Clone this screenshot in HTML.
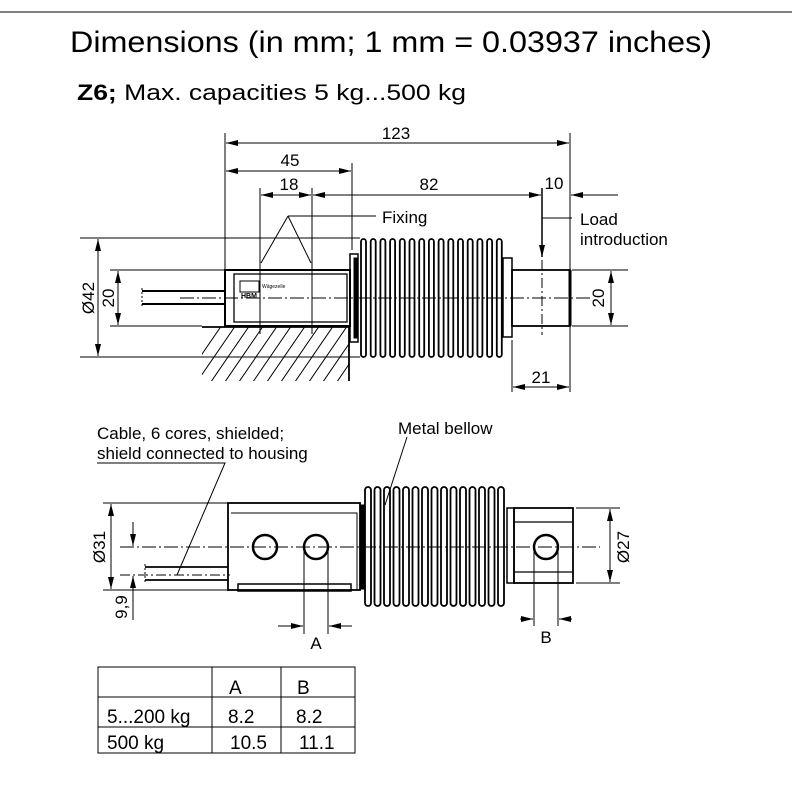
<!DOCTYPE html>
<html><head><meta charset="utf-8"><style>
html,body{margin:0;padding:0;background:#fff;}
svg{display:block;font-family:"Liberation Sans",Arial,sans-serif;}
</style></head><body>
<svg width="792" height="792" viewBox="0 0 792 792" xmlns="http://www.w3.org/2000/svg">
<defs>
<marker id="ae" markerWidth="12" markerHeight="6" refX="12" refY="3" orient="auto" markerUnits="userSpaceOnUse"><path d="M0,0 L12,3 L0,6 z" fill="#000"/></marker>
<marker id="as" markerWidth="12" markerHeight="6" refX="0" refY="3" orient="auto" markerUnits="userSpaceOnUse"><path d="M12,0 L0,3 L12,6 z" fill="#000"/></marker>
<clipPath id="hc"><rect x="202" y="327" width="147" height="54"/></clipPath>
</defs>
<line x1="0" y1="12" x2="792" y2="12" stroke="#000" stroke-width="1"/>
<text x="70" y="52" font-size="30" textLength="642" lengthAdjust="spacingAndGlyphs">Dimensions (in mm; 1 mm = 0.03937 inches)</text>
<text x="77" y="100" font-size="22" textLength="389" lengthAdjust="spacingAndGlyphs"><tspan font-weight="bold">Z6;</tspan> Max. capacities 5 kg...500 kg</text>

<g stroke="#000" fill="none" stroke-width="1">
<line x1="225" y1="133" x2="225" y2="270"/>
<line x1="570" y1="133" x2="570" y2="392"/>
<line x1="226" y1="143" x2="569" y2="143" marker-start="url(#as)" marker-end="url(#ae)"/>
<line x1="352" y1="163" x2="352" y2="250"/>
<line x1="226" y1="171" x2="351" y2="171" marker-start="url(#as)" marker-end="url(#ae)"/>
<line x1="260" y1="188" x2="260" y2="334"/>
<line x1="312" y1="188" x2="312" y2="334"/>
<line x1="261" y1="195" x2="311" y2="195" marker-start="url(#as)" marker-end="url(#ae)"/>
<line x1="313" y1="195" x2="541" y2="195" marker-start="url(#as)" marker-end="url(#ae)"/>
<line x1="571" y1="195" x2="618" y2="195" marker-start="url(#as)"/>
<line x1="542" y1="188" x2="542" y2="257" stroke-width="1.5" marker-end="url(#ae)"/>
<line x1="542" y1="260" x2="542" y2="335" stroke-dasharray="10,3,2,3"/>
<line x1="542" y1="218" x2="572" y2="218"/>
<line x1="288" y1="216" x2="376" y2="216"/>
<line x1="288" y1="216" x2="261" y2="263"/>
<line x1="288" y1="216" x2="311" y2="263"/>
<line x1="80" y1="238" x2="360" y2="238"/>
<line x1="80" y1="357" x2="360" y2="357"/>
<line x1="98" y1="239" x2="98" y2="356" marker-start="url(#as)" marker-end="url(#ae)"/>
<line x1="110" y1="270" x2="225" y2="270"/>
<line x1="110" y1="326" x2="202" y2="326"/>
<line x1="118" y1="271" x2="118" y2="325" marker-start="url(#as)" marker-end="url(#ae)"/>
<line x1="572" y1="270" x2="628" y2="270"/>
<line x1="572" y1="326" x2="628" y2="326"/>
<line x1="611" y1="271" x2="611" y2="325" marker-start="url(#as)" marker-end="url(#ae)"/>
<line x1="512" y1="340" x2="512" y2="392"/>
<line x1="513" y1="387" x2="569" y2="387" marker-start="url(#as)" marker-end="url(#ae)"/>
<line x1="180" y1="298" x2="590" y2="298" stroke-dasharray="14,3,2,3"/>
</g>
<g stroke="#000" fill="none">
<line x1="142" y1="291" x2="225" y2="291" stroke-width="2"/>
<line x1="142" y1="304" x2="225" y2="304" stroke-width="2"/>
<line x1="142" y1="288" x2="142" y2="307" stroke-dasharray="2,2"/>
<rect x="225" y="270" width="125" height="56" stroke-width="2"/>
<rect x="234" y="274" width="113" height="48" stroke-width="1.3"/>
<rect x="240" y="281" width="19" height="11" stroke-width="1"/>
<line x1="202" y1="327" x2="349" y2="327" stroke-width="1.8"/>
<line x1="349" y1="327" x2="349" y2="381" stroke-width="1.8"/>
<g clip-path="url(#hc)" stroke-width="1">
<path d="M190,392 l48,-70 M204,392 l48,-70 M218,392 l48,-70 M232,392 l48,-70 M246,392 l48,-70 M260,392 l48,-70 M274,392 l48,-70 M288,392 l48,-70 M302,392 l48,-70 M316,392 l48,-70 M330,392 l48,-70 M344,392 l48,-70 M176,392 l48,-70"/>
</g>
<rect x="350" y="254" width="8" height="88" stroke-width="1.5"/>
<rect x="354" y="258" width="4" height="80" fill="#000"/>
<g stroke-width="1.8">
<rect x="361" y="239" width="5" height="118" rx="2.5"/><rect x="370.7" y="239" width="5" height="118" rx="2.5"/><rect x="380.4" y="239" width="5" height="118" rx="2.5"/><rect x="390.1" y="239" width="5" height="118" rx="2.5"/><rect x="399.8" y="239" width="5" height="118" rx="2.5"/><rect x="409.5" y="239" width="5" height="118" rx="2.5"/><rect x="419.2" y="239" width="5" height="118" rx="2.5"/><rect x="428.9" y="239" width="5" height="118" rx="2.5"/><rect x="438.6" y="239" width="5" height="118" rx="2.5"/><rect x="448.3" y="239" width="5" height="118" rx="2.5"/><rect x="458" y="239" width="5" height="118" rx="2.5"/><rect x="467.7" y="239" width="5" height="118" rx="2.5"/><rect x="477.4" y="239" width="5" height="118" rx="2.5"/><rect x="487.1" y="239" width="5" height="118" rx="2.5"/><rect x="496.8" y="239" width="5" height="118" rx="2.5"/>
</g>
<rect x="503" y="258" width="9" height="79" stroke-width="1.5"/>
<rect x="512" y="270" width="58" height="56" stroke-width="1.8"/>
<line x1="570" y1="270" x2="570" y2="326" stroke-width="3"/>
</g>
<g font-size="17">
<text x="396" y="139" text-anchor="middle">123</text>
<text x="290" y="166" text-anchor="middle">45</text>
<text x="289" y="190" text-anchor="middle">18</text>
<text x="429" y="190" text-anchor="middle">82</text>
<text x="554" y="189" text-anchor="middle">10</text>
<text x="382" y="223">Fixing</text>
<text x="580" y="225">Load</text>
<text x="580" y="245">introduction</text>
<text x="541" y="383" text-anchor="middle">21</text>
<text transform="translate(94,298) rotate(-90)" text-anchor="middle">Ø42</text>
<text transform="translate(114,298) rotate(-90)" text-anchor="middle">20</text>
<text transform="translate(604,298) rotate(-90)" text-anchor="middle">20</text>
</g>
<text x="262" y="288" font-size="5">Wägezelle</text>
<text x="241" y="298" font-size="7" font-weight="bold">HBM</text>

<g stroke="#000" fill="none" stroke-width="1">
<line x1="103" y1="503" x2="228" y2="503"/>
<line x1="103" y1="590" x2="228" y2="590"/>
<line x1="111" y1="504" x2="111" y2="589" marker-start="url(#as)" marker-end="url(#ae)"/>
<line x1="133" y1="522" x2="133" y2="546" marker-end="url(#ae)"/>
<line x1="133" y1="620" x2="133" y2="576" marker-end="url(#ae)"/>
<line x1="120" y1="575" x2="230" y2="575" stroke-dasharray="10,3,2,3"/>
<line x1="120" y1="547" x2="600" y2="547" stroke-dasharray="14,3,2,3"/>
<line x1="304" y1="547" x2="304" y2="634"/>
<line x1="328" y1="547" x2="328" y2="634"/>
<line x1="278" y1="626" x2="303" y2="626" marker-end="url(#ae)"/>
<line x1="352" y1="626" x2="329" y2="626" marker-end="url(#ae)"/>
<line x1="534" y1="547" x2="534" y2="626"/>
<line x1="558" y1="547" x2="558" y2="626"/>
<line x1="520" y1="619" x2="533" y2="619" marker-end="url(#ae)"/>
<line x1="572" y1="619" x2="559" y2="619" marker-end="url(#ae)"/>
<line x1="576" y1="508" x2="620" y2="508"/>
<line x1="576" y1="583" x2="620" y2="583"/>
<line x1="610" y1="509" x2="610" y2="582" marker-start="url(#as)" marker-end="url(#ae)"/>
<polyline points="97,463 225,463 177,575"/>
<line x1="407" y1="437" x2="385" y2="505"/>
</g>
<g stroke="#000" fill="none">
<line x1="145" y1="567" x2="228" y2="567" stroke-width="1.8"/>
<line x1="145" y1="580" x2="228" y2="580" stroke-width="1.8"/>
<line x1="145" y1="564" x2="145" y2="583" stroke-dasharray="2,2"/>
<rect x="228" y="503" width="132" height="87" stroke-width="1.8"/>
<polyline points="231,513 357,513 357,590" stroke-width="1"/>
<rect x="238" y="584" width="113" height="7" stroke-width="1.5"/>
<rect x="360" y="505" width="5" height="84" fill="#000"/>
<circle cx="265" cy="547" r="12" stroke-width="2.5"/>
<circle cx="316" cy="547" r="12" stroke-width="2.5"/>
<g stroke-width="1.8">
<rect x="365" y="487" width="6" height="119" rx="3"/><rect x="374.5" y="487" width="6" height="119" rx="3"/><rect x="384" y="487" width="6" height="119" rx="3"/><rect x="393.5" y="487" width="6" height="119" rx="3"/><rect x="403" y="487" width="6" height="119" rx="3"/><rect x="412.5" y="487" width="6" height="119" rx="3"/><rect x="422" y="487" width="6" height="119" rx="3"/><rect x="431.5" y="487" width="6" height="119" rx="3"/><rect x="441" y="487" width="6" height="119" rx="3"/><rect x="450.5" y="487" width="6" height="119" rx="3"/><rect x="460" y="487" width="6" height="119" rx="3"/><rect x="469.5" y="487" width="6" height="119" rx="3"/><rect x="479" y="487" width="6" height="119" rx="3"/><rect x="488.5" y="487" width="6" height="119" rx="3"/><rect x="498" y="487" width="6" height="119" rx="3"/>
</g>
<rect x="507" y="508" width="7" height="75" stroke-width="1.5"/>
<rect x="514" y="508" width="59" height="75" stroke-width="1.8"/>
<line x1="514" y1="522" x2="573" y2="522" stroke-width="1.2"/>
<line x1="514" y1="572" x2="573" y2="572" stroke-width="1.2"/>
<circle cx="546" cy="547" r="12" stroke-width="2.5"/>
</g>
<g font-size="17">
<text x="97" y="439">Cable, 6 cores, shielded;</text>
<text x="97" y="459">shield connected to housing</text>
<text x="398" y="434">Metal bellow</text>
<text x="316" y="649" text-anchor="middle">A</text>
<text x="546" y="643" text-anchor="middle">B</text>
<text transform="translate(105,547) rotate(-90)" text-anchor="middle">Ø31</text>
<text transform="translate(127,607) rotate(-90)" text-anchor="middle">9,9</text>
<text transform="translate(629,547) rotate(-90)" text-anchor="middle">Ø27</text>
</g>

<g stroke="#000" stroke-width="1" fill="none">
<rect x="98" y="667" width="257" height="86"/>
<line x1="98" y1="697" x2="355" y2="697"/>
<line x1="98" y1="727" x2="355" y2="727"/>
<line x1="212" y1="667" x2="212" y2="753"/>
<line x1="281" y1="667" x2="281" y2="753"/>
</g>
<g font-size="19">
<text x="229" y="694">A</text>
<text x="297" y="694">B</text>
<text x="107" y="723">5...200 kg</text>
<text x="228" y="723">8.2</text>
<text x="296" y="723">8.2</text>
<text x="107" y="749">500 kg</text>
<text x="230" y="749">10.5</text>
<text x="299" y="749">11.1</text>
</g>
</svg>
</body></html>
